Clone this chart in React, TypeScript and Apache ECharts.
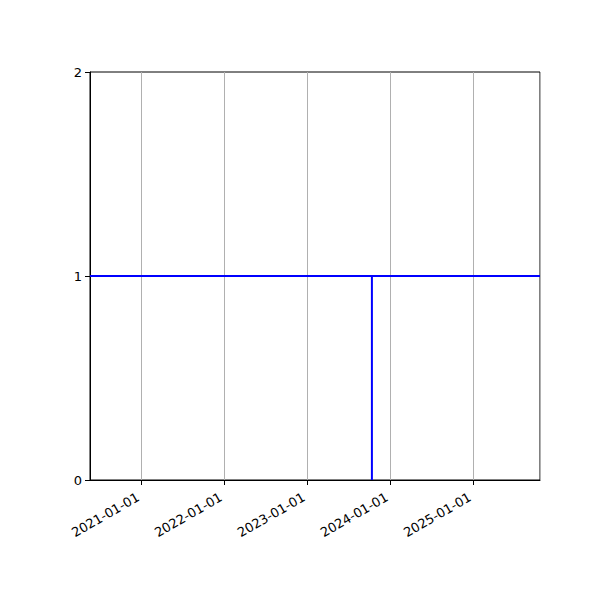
import React, { useEffect, useRef } from "react";
import * as echarts from "echarts";

// axis range (dates) and y ticks
const xRange = ["2020-05-19", "2025-10-21"];
const yTicks = [0, 1, 2];

// horizontal level line
const levelDates = ["2020-05-19", "2025-10-21"];
const levelValues = [1, 1];

// vertical event line
const eventDates = ["2023-10-12", "2023-10-12"];
const eventValues = [0, 1];

const App = () => {
  const chartRef = useRef<HTMLDivElement>(null);

  useEffect(() => {
    const chart = echarts.init(chartRef.current, null, { renderer: "svg" });

    const font = "DejaVu Sans";

    chart.setOption({
      animation: false,
      grid: {
        left: 90,
        right: 60,
        top: 72,
        bottom: 120,
        show: true,
        borderColor: "#000",
        borderWidth: 1,
        backgroundColor: "transparent",
      },
      xAxis: {
        type: "time",
        min: xRange[0],
        max: xRange[1],
        minInterval: 365 * 86400000,
        maxInterval: 366 * 86400000,
        axisLine: { show: true, onZero: false, lineStyle: { color: "#000", width: 1 } },
        axisTick: { show: true, length: 5, lineStyle: { color: "#000" } },
        minorTick: { show: false },
        splitLine: { show: true, lineStyle: { color: "#b0b0b0", width: 1 } },
        axisLabel: {
          rotate: 30,
          formatter: "{yyyy}-{MM}-{dd}",
          color: "#000",
          fontSize: 13,
          fontFamily: font,
          margin: 14,
          padding: [0, 4, 0, 0],
          showMinLabel: false,
          showMaxLabel: false,
          hideOverlap: false,
        },
      },
      yAxis: {
        type: "value",
        min: yTicks[0],
        max: yTicks[yTicks.length - 1],
        interval: 1,
        axisLine: { show: true, lineStyle: { color: "#000", width: 1 } },
        axisTick: { show: true, length: 5, lineStyle: { color: "#000" } },
        splitLine: { show: false },
        axisLabel: { color: "#000", fontSize: 13, fontFamily: font, margin: 8 },
      },
      series: [
        {
          name: "level",
          type: "line",
          data: levelDates.map((d, i) => [d, levelValues[i]]),
          showSymbol: false,
          lineStyle: { color: "#0000ff", width: 2 },
          z: 3,
        },
        {
          name: "event",
          type: "line",
          data: eventDates.map((d, i) => [d, eventValues[i]]),
          showSymbol: false,
          lineStyle: { color: "#0000ff", width: 2 },
          z: 3,
        },
      ],
    });

    return () => chart.dispose();
  }, []);

  return (
    <div
      ref={chartRef}
      style={{ position: "absolute", left: 0, top: 0, width: "600px", height: "600px", background: "#fff" }}
    />
  );
};

export default App;
